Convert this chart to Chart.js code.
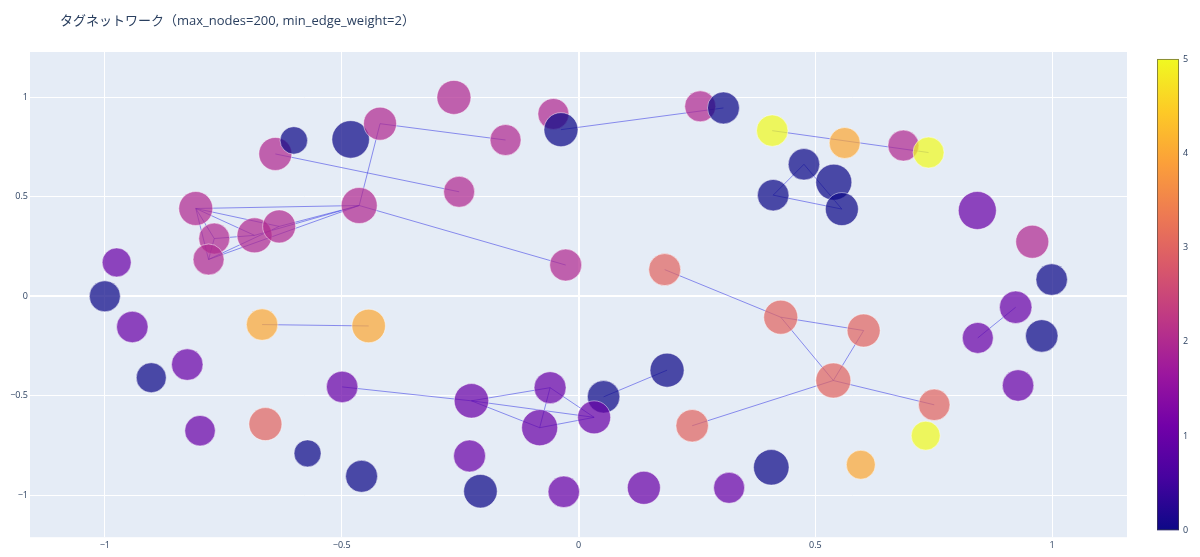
<!DOCTYPE html>
<html>
<head>
    <title>タグネットワーク</title>
    <script src="https://cdn.jsdelivr.net/npm/chart.js"></script>
    <style>
        body { margin: 0; background: #fff; }
    </style>
</head>
<body>
    <canvas id="tag-network" width="1200" height="557"></canvas>

    <script>
        const chartTitle = 'タグネットワーク（max_nodes=200, min_edge_weight=2）';

        // node positions, colour value (0-5) and marker size (diameter)
        const nodeX = [-0.975, -1.000, -0.808, -0.769, -0.781, -0.684, -0.632, -0.463, -0.640, -0.601,
                       -0.481, -0.419, -0.263, -0.154, -0.252, -0.053, -0.037, -0.027, 0.257, 0.306,
                       0.409, 0.562, 0.686, 0.739, 0.476, 0.539, 0.411, 0.556, 0.842, 0.958,
                       0.999, 0.182, -0.942, -0.668, -0.443, -0.826, -0.902, -0.499, -0.226, -0.060,
                       -0.082, -0.799, -0.661, -0.572, -0.458, -0.230, -0.207, -0.031, 0.053, 0.033,
                       0.187, 0.427, 0.602, 0.538, 0.751, 0.240, 0.733, 0.596, 0.407, 0.138,
                       0.318, 0.923, 0.843, 0.978, 0.928];
        const nodeY = [0.170, 0.000, 0.441, 0.290, 0.185, 0.306, 0.351, 0.456, 0.715, 0.783,
                       0.788, 0.867, 0.999, 0.785, 0.525, 0.916, 0.837, 0.157, 0.954, 0.946,
                       0.832, 0.770, 0.757, 0.722, 0.663, 0.573, 0.508, 0.438, 0.431, 0.274,
                       0.084, 0.134, -0.154, -0.142, -0.149, -0.343, -0.409, -0.455, -0.525, -0.459,
                       -0.660, -0.675, -0.642, -0.789, -0.904, -0.802, -0.979, -0.982, -0.505, -0.608,
                       -0.371, -0.105, -0.172, -0.423, -0.545, -0.650, -0.700, -0.846, -0.859, -0.962,
                       -0.962, -0.055, -0.209, -0.199, -0.448];
        const nodeValue = [1, 0, 2, 2, 2, 2, 2, 2, 2, 0,
                           0, 2, 2, 2, 2, 2, 0, 2, 2, 0,
                           5, 4, 2, 5, 0, 0, 0, 0, 1, 2,
                           0, 3, 1, 4, 4, 1, 0, 1, 1, 1,
                           1, 1, 3, 0, 0, 1, 0, 1, 0, 1,
                           0, 3, 3, 3, 3, 3, 5, 4, 0, 1,
                           1, 1, 1, 0, 1];
        const nodeSize = [29, 31, 34, 31, 31, 35, 33, 36, 33, 27.5,
                          37.5, 33, 34, 31, 31, 31, 34, 32, 31, 32,
                          31.5, 31, 31, 31, 31.5, 36, 31.5, 33, 38, 33,
                          31.5, 32, 31.5, 31.5, 33.5, 31.5, 30, 31.5, 34.5, 32,
                          36, 30.5, 33, 27, 32, 32, 33.5, 31.5, 32.5, 33,
                          34, 34, 33, 35, 31.5, 32.5, 29, 29, 35.5, 33,
                          31, 32.5, 31, 32.5, 31.5];

        // edges as pairs of node indices
        const edgeFrom = [11, 11, 8, 7, 2, 2, 2, 2, 2, 3, 3, 4, 5, 6, 4, 16, 20, 24, 24, 26,
                          31, 51, 51, 52, 53, 53, 48, 61, 33, 37, 38, 38, 38, 39, 39, 40];
        const edgeTo   = [13, 7, 14, 17, 7, 3, 4, 5, 6, 5, 4, 7, 7, 7, 6, 19, 23, 26, 27, 27,
                          51, 52, 53, 53, 54, 55, 50, 62, 34, 38, 39, 40, 49, 40, 49, 49];

        const xTicks = [-1, -0.5, 0, 0.5, 1];
        const yTicks = [-1, -0.5, 0, 0.5, 1];
        const cbarTicks = [0, 1, 2, 3, 4, 5];
        const cbarMax = 5;

        // plotly "Plasma" colour scale
        const plasma = ['#0d0887', '#46039f', '#7201a8', '#9c179e', '#bd3786',
                        '#d8576b', '#ed7953', '#fb9f3a', '#fdca26', '#f0f921'];

        function hexRgb(h) {
            return [parseInt(h.slice(1, 3), 16), parseInt(h.slice(3, 5), 16), parseInt(h.slice(5, 7), 16)];
        }

        function plasmaColor(v, alpha) {
            const t = Math.min(Math.max(v / cbarMax, 0), 1) * (plasma.length - 1);
            const i = Math.min(Math.floor(t), plasma.length - 2);
            const f = t - i;
            const a = hexRgb(plasma[i]), b = hexRgb(plasma[i + 1]);
            const c = a.map((ch, k) => Math.round(ch + (b[k] - ch) * f));
            return `rgba(${c[0]},${c[1]},${c[2]},${alpha})`;
        }

        const fmtTick = v => (v < 0 ? '\u2212' : '') + Math.abs(v);

        const edgePoints = [];
        edgeFrom.forEach((a, i) => {
            const b = edgeTo[i];
            edgePoints.push({x: nodeX[a], y: nodeY[a]}, {x: nodeX[b], y: nodeY[b]}, {x: null, y: null});
        });

        const nodePoints = nodeX.map((x, i) => ({x: x, y: nodeY[i]}));

        const plotBg = {
            id: 'plotBg',
            beforeDraw(chart) {
                const {ctx, chartArea: a} = chart;
                ctx.save();
                ctx.fillStyle = '#e5ecf6';
                ctx.fillRect(a.left, a.top, a.right - a.left, a.bottom - a.top);
                ctx.restore();
            }
        };

        const titleAndBar = {
            id: 'titleAndBar',
            afterDraw(chart) {
                const {ctx, chartArea: a} = chart;
                const cb = chart.scales.cbar;
                ctx.save();
                ctx.font = '13px "Open Sans", "Noto Sans CJK JP", sans-serif';
                ctx.fillStyle = '#2a3f5f';
                ctx.textBaseline = 'middle';
                ctx.textAlign = 'left';
                ctx.fillText(chartTitle, 60, 21);

                const x0 = a.right + 30, w = 22;
                const yTop = cb.getPixelForValue(cbarMax), yBot = cb.getPixelForValue(0);
                const grad = ctx.createLinearGradient(0, yBot, 0, yTop);
                plasma.forEach((c, i) => grad.addColorStop(i / (plasma.length - 1), c));
                ctx.fillStyle = grad;
                ctx.fillRect(x0, yTop, w, yBot - yTop);
                ctx.strokeStyle = 'rgba(68,68,68,0.6)';
                ctx.lineWidth = 1;
                ctx.strokeRect(x0 + 0.5, yTop + 0.5, w - 1, yBot - yTop - 1);
                ctx.restore();
            }
        };

        Chart.defaults.font.family = '"Open Sans", "Noto Sans CJK JP", sans-serif';
        Chart.defaults.color = '#2a3f5f';

        const ctx = document.getElementById('tag-network').getContext('2d');
        const chart = new Chart(ctx, {
            type: 'scatter',
            data: {
                datasets: [{
                    label: 'nodes',
                    data: nodePoints,
                    order: 0,
                    pointStyle: 'circle',
                    pointRadius: nodeSize.map(d => d / 2),
                    backgroundColor: nodeValue.map(v => plasmaColor(v, 0.72)),
                    borderColor: 'rgba(255,255,255,0.6)',
                    borderWidth: 0.8
                }, {
                    type: 'line',
                    label: 'edges',
                    data: edgePoints,
                    order: 1,
                    showLine: true,
                    spanGaps: false,
                    pointRadius: 0,
                    borderColor: 'rgba(40,40,225,0.5)',
                    borderWidth: 1,
                    tension: 0
                }]
            },
            options: {
                responsive: false,
                animation: false,
                events: [],
                layout: { padding: { top: 52, left: 0, right: 0, bottom: 0 } },
                plugins: {
                    legend: { display: false },
                    tooltip: { enabled: false },
                    title: { display: false }
                },
                scales: {
                    x: {
                        type: 'linear',
                        min: -1.158,
                        max: 1.158,
                        afterBuildTicks: s => { s.ticks = xTicks.map(v => ({value: v})); },
                        afterFit: s => { s.height = 19; s.paddingLeft = 0; s.paddingRight = 0; },
                        grid: {
                            color: '#ffffff',
                            lineWidth: c => (c.tick && c.tick.value === 0 ? 2 : 1),
                            drawTicks: false
                        },
                        border: { display: false },
                        ticks: { font: { size: 9 }, padding: 3, callback: fmtTick, maxRotation: 0 }
                    },
                    y: {
                        type: 'linear',
                        min: -1.21,
                        max: 1.227,
                        afterBuildTicks: s => { s.ticks = yTicks.map(v => ({value: v})); },
                        afterFit: s => { s.width = 30; s.paddingTop = 0; s.paddingBottom = 0; },
                        grid: {
                            color: '#ffffff',
                            lineWidth: c => (c.tick && c.tick.value === 0 ? 2 : 1),
                            drawTicks: false
                        },
                        border: { display: false },
                        ticks: { font: { size: 9 }, padding: 2, callback: fmtTick }
                    },
                    cbar: {
                        type: 'linear',
                        position: 'right',
                        min: -0.074,
                        max: 5.074,
                        afterBuildTicks: s => { s.ticks = cbarTicks.map(v => ({value: v})); },
                        afterFit: s => { s.width = 73; s.paddingTop = 0; s.paddingBottom = 0; },
                        grid: { display: false, drawTicks: false },
                        border: { display: false },
                        ticks: { font: { size: 9 }, padding: 56 }
                    }
                }
            },
            plugins: [plotBg, titleAndBar]
        });
    </script>
</body>
</html>
